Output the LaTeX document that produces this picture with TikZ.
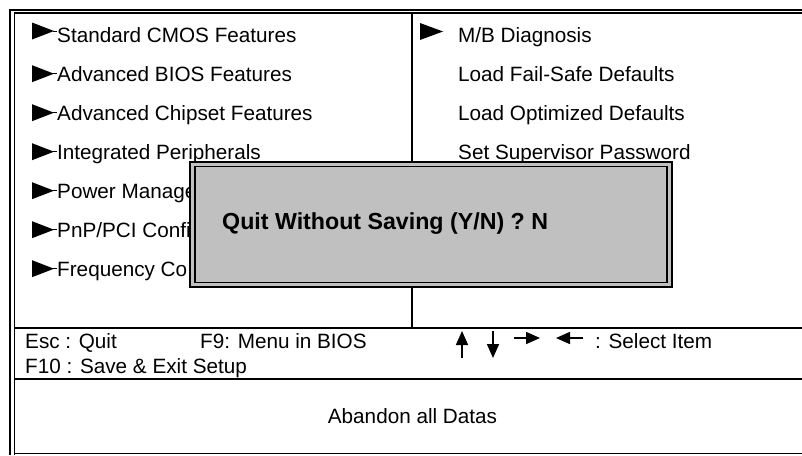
\documentclass[tikz,border=0pt]{standalone}
\usepackage{fontspec}
\setmainfont{Liberation Sans}
\usetikzlibrary{arrows.meta}
\definecolor{dlg}{HTML}{C0C0C0}
\begin{document}
\begin{tikzpicture}[x=1pt,y=-1pt,
  item/.style={anchor=base west,inner sep=0pt,font=\fontsize{20.7}{24}\selectfont},
  quitlabel/.style={anchor=base west,inner sep=0pt,font=\bfseries\fontsize{23.2}{27}\selectfont},
  rule/.style={line width=1.5pt},
  keyarrow/.style={-{Triangle[length=14pt,width=12pt]},line width=1.6pt},
  marker/.style={fill=black}]
\useasboundingbox (0,0) rectangle (802,455);
% outer double frame
\draw[line width=2pt] (10,455) -- (10,10.3) -- (802,10.3);
\draw[line width=1.4pt] (14.2,455) -- (14.2,12.8) -- (802,12.8);
% bottom line
\draw[line width=1pt] (14.2,453.5) -- (802,453.5);
% horizontal rules
\draw[rule] (14.2,328) -- (802,328);
\draw[rule] (14.2,379) -- (802,379);
% column divider
\draw[line width=1.3pt] (412,12.8) -- (412,328);
% left column
\foreach \t [count=\i from 0] in {Standard CMOS Features,Advanced BIOS Features,Advanced Chipset Features,Integrated Peripherals,Power Manage,PnP/PCI Confi,Frequency Co}{
  \pgfmathsetmacro{\b}{42.7+39*\i}
  \pgfmathsetmacro{\c}{\i==0 ? 31 : \b-8}
  \fill[marker] (32,\c-8.5) -- (54,\c) -- (32,\c+8.5) -- cycle;
  \draw[line width=0.8pt] (53,\c) -- (57,\c);
  \node[item] (l\i) at (57,\b) {\t};
}
% right column
\fill[marker] (420,23) -- (443,31.5) -- (420,40) -- cycle;
\foreach \t [count=\i from 0] in {M/B Diagnosis,Load Fail-Safe Defaults,Load Optimized Defaults,Set Supervisor Password}{
  \pgfmathsetmacro{\b}{42.7+39*\i}
  \node[item] (r\i) at (458,\b) {\t};
}
% dialog box
\filldraw[fill=dlg,draw=black,line width=2pt] (190,162) rectangle (672,287);
\draw[line width=1.5pt] (195,166.5) rectangle (667,282.5);
\node[quitlabel] (quit) at (222,229) {Quit Without Saving (Y/N) ? N};
% key help
\node[item] (esc) at (25,348) {Esc : Quit};
\node[item] (f9) at (200,348) {F9: Menu in BIOS};
\node[item] (f10) at (25,373) {F10 : Save \& Exit Setup};
\coordinate (ua) at (462,358); \coordinate (ub) at (462,331);
\coordinate (da) at (493,331); \coordinate (db) at (493,358);
\coordinate (ra) at (514,338); \coordinate (rb) at (540,338);
\coordinate (la) at (583,338); \coordinate (lb) at (556,338);
\draw[keyarrow] (ua) -- (ub);
\draw[keyarrow] (da) -- (db);
\draw[keyarrow] (ra) -- (rb);
\draw[keyarrow] (la) -- (lb);
\node[item] (sel) at (595,348) {: Select Item};
% status
\node[item,anchor=base] (aband) at (412.5,423) {Abandon all Datas};
\end{tikzpicture}
\end{document}
